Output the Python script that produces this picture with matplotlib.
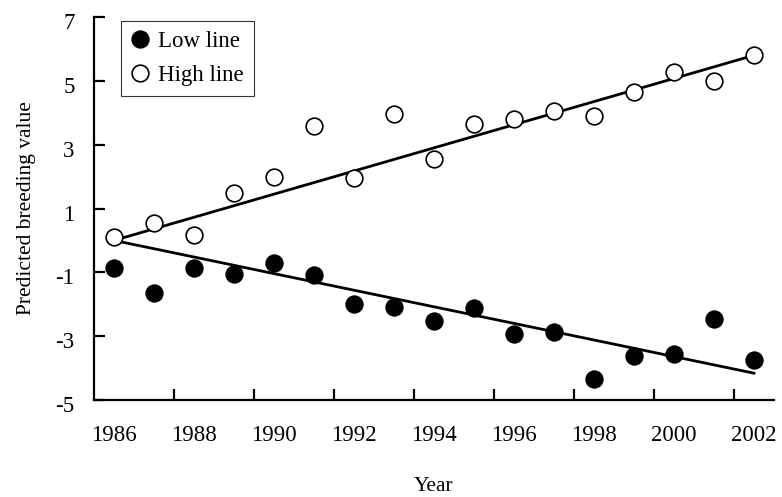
import numpy as np
import matplotlib
matplotlib.use('Agg')
import matplotlib.pyplot as plt
import matplotlib.transforms as mtransforms

plt.rcParams['font.family'] = ['Liberation Serif', 'DejaVu Serif']

# data
years = list(range(1986, 2003))
low_line = [-0.86, -1.64, -0.86, -1.05, -0.72, -1.08, -1.99, -2.08, -2.51,
            -2.13, -2.94, -2.86, -4.33, -3.62, -3.55, -2.47, -3.75]
high_line = [0.10, 0.55, 0.17, 1.49, 1.99, 3.59, 1.96, 3.96, 2.55,
             3.65, 3.81, 4.06, 3.90, 4.65, 5.29, 5.00, 5.81]
# fitted trend lines (value = slope * years since 1986)
low_slope = -0.26
high_slope = 0.3625
y_ticks = [-5, -3, -1, 1, 3, 5, 7]

x = np.arange(len(years))

fig = plt.figure(figsize=(7.82, 4.97), dpi=100)
ax = fig.add_axes([94/782, 1-400/497, 680/782, 383/497])

fs = 16.5
ax.plot(x, low_slope * x, color='black', lw=2, zorder=2)
ax.plot(x, high_slope * x, color='black', lw=2, zorder=2)
ax.plot(x, low_line, 'o', ms=12, mfc='black', mec='black', mew=1.2,
        label='Low line', zorder=3)
ax.plot(x, high_line, 'o', ms=12, mfc='white', mec='black', mew=1.2,
        label='High line', zorder=3)

ax.set_xlim(-0.5, len(years) - 0.5)
ax.set_ylim(-5, 7)

for s in ['top', 'right']:
    ax.spines[s].set_visible(False)
for s in ['left', 'bottom']:
    ax.spines[s].set_linewidth(1.6)

# category style axis: labels on every second year, tick marks between
ax.set_xticks(x[::2])
ax.set_xticklabels([str(y) for y in years[::2]], fontsize=fs)
ax.set_xticks(np.arange(1.5, len(years) - 1, 2), minor=True)
ax.tick_params(axis='x', which='major', length=0, pad=18)
ax.tick_params(axis='x', which='minor', direction='in', length=8, width=1.6)

ax.set_yticks(y_ticks)
ax.set_yticklabels([str(v) for v in y_ticks], fontsize=fs)
ax.tick_params(axis='y', direction='in', length=8, width=1.6, pad=14)
shift = mtransforms.ScaledTranslation(0, -0.04, fig.dpi_scale_trans)
for lbl in ax.get_yticklabels():
    lbl.set_transform(lbl.get_transform() + shift)

ax.set_xlabel('Year', fontsize=15.5, labelpad=22)
ax.set_ylabel('Predicted breeding value', fontsize=15.5, labelpad=14)

leg = ax.legend(loc='upper left', bbox_to_anchor=(121/782, 1-21/497),
                bbox_transform=fig.transFigure, fontsize=fs, frameon=True,
                fancybox=False, borderpad=0.45, labelspacing=0.55,
                handlelength=0.8, handletextpad=0.35, borderaxespad=0)
leg.get_frame().set_edgecolor('black')
leg.get_frame().set_linewidth(0.8)

fig.savefig('out.png', dpi=100)
